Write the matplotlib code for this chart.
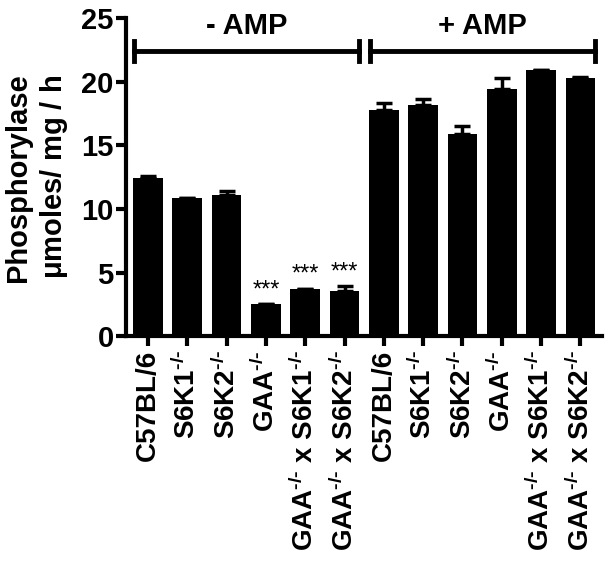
import numpy as np
import matplotlib.pyplot as plt

plt.rcParams['font.family'] = ['Liberation Sans', 'DejaVu Sans']
plt.rcParams['font.weight'] = 'bold'
plt.rcParams['mathtext.fontset'] = 'custom'
plt.rcParams['mathtext.rm'] = 'Liberation Sans:bold'
plt.rcParams['mathtext.bf'] = 'Liberation Sans:bold'
plt.rcParams['mathtext.it'] = 'Liberation Sans:bold'

# data
ko = r'$^{\text{-/-}}$'
labels = ['C57BL/6', 'S6K1' + ko, 'S6K2' + ko, 'GAA' + ko,
          'GAA' + ko + ' x S6K1' + ko, 'GAA' + ko + ' x S6K2' + ko] * 2
values = [12.4, 10.9, 11.1, 2.55, 3.75, 3.55,
          17.8, 18.2, 15.9, 19.4, 20.95, 20.3]
errors = [0.2, 0.0, 0.35, 0.0, 0.0, 0.4,
          0.5, 0.45, 0.65, 0.9, 0.0, 0.1]
stars = {3: '***', 4: '***', 5: '***'}
groups = ['- AMP', '+ AMP']

x = np.arange(len(values))
fig = plt.figure(figsize=(6.1, 5.68), dpi=100)
ax = fig.add_axes([0.207, 0.408, 0.78, 0.56])

ax.bar(x, values, width=0.76, color='black', zorder=2)
ax.errorbar(x, values, yerr=[np.zeros(len(errors)), errors], fmt='none',
            ecolor='black', elinewidth=2.5, capsize=6, capthick=2.5, zorder=1)

for i, s in stars.items():
    ax.text(x[i], values[i] + errors[i] + 0.2, s, ha='center', va='bottom',
            fontsize=17, fontweight='normal')

# group brackets
yb = 22.4
for g, (a, b) in zip(groups, [(0, 5), (6, 11)]):
    x0, x1 = a - 0.35, b + 0.36
    ax.plot([x0, x1], [yb, yb], color='black', lw=3.5, clip_on=False)
    ax.plot([x0, x0], [yb - 0.8, yb + 0.8], color='black', lw=3.5, clip_on=False)
    ax.plot([x1, x1], [yb - 0.8, yb + 0.8], color='black', lw=3.5, clip_on=False)
    ax.text((x0 + x1) / 2, yb + 0.9, g, ha='center', va='bottom', fontsize=21)

ax.set_xlim(-0.55, 11.55)
ax.set_ylim(0, 25)
ax.set_yticks([0, 5, 10, 15, 20, 25])
ax.set_xticks(x)
ax.set_xticklabels(labels, rotation=90, fontsize=20)
ax.tick_params(axis='y', labelsize=21, width=3, length=7, pad=2)
ax.tick_params(axis='x', width=3, length=7, pad=3)
for lab in ax.get_yticklabels() + ax.get_xticklabels():
    lab.set_fontweight('bold')

ax.spines['top'].set_visible(False)
ax.spines['right'].set_visible(False)
ax.spines['left'].set_linewidth(3)
ax.spines['bottom'].set_linewidth(3)

ax.set_ylabel('Phosphorylase\n' + r'$\mu$' + 'moles/ mg / h', fontsize=21,
              fontweight='bold', linespacing=1.25, labelpad=8)

fig.savefig('out.png', dpi=100)
